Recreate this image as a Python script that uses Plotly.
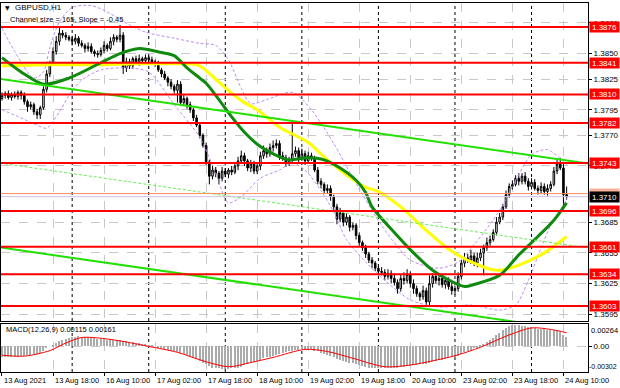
import plotly.graph_objects as go

# ---------------- data ----------------
closes = [
    1.3809, 1.3811, 1.3807, 1.3810, 1.3808, 1.3812, 1.3809, 1.3803, 1.3798, 1.3800,
    1.3793, 1.3790, 1.3797, 1.3815, 1.3830, 1.3840, 1.3852, 1.3862, 1.3870, 1.3868,
    1.3866, 1.3864, 1.3862, 1.3865, 1.3860, 1.3858, 1.3855, 1.3857, 1.3852, 1.3850,
    1.3849, 1.3853, 1.3858, 1.3855, 1.3862, 1.3866, 1.3864, 1.3868, 1.3836, 1.3842,
    1.3838, 1.3845, 1.3842, 1.3845, 1.3843, 1.3846, 1.3844, 1.3842, 1.3840, 1.3834,
    1.3830, 1.3826, 1.3822, 1.3818, 1.3814, 1.3820, 1.3802, 1.3806, 1.3800, 1.3795,
    1.3787, 1.3780, 1.3770, 1.3760, 1.3744, 1.3730, 1.3736, 1.3733, 1.3728, 1.3735,
    1.3732, 1.3736, 1.3734, 1.3740, 1.3745, 1.3750, 1.3745, 1.3738, 1.3742, 1.3735,
    1.3740, 1.3750, 1.3755, 1.3752, 1.3758, 1.3760, 1.3762, 1.3750, 1.3748, 1.3743,
    1.3746, 1.3752, 1.3755, 1.3748, 1.3752, 1.3745, 1.3750, 1.3748, 1.3736, 1.3725,
    1.3722, 1.3716, 1.3718, 1.3710, 1.3700, 1.3688, 1.3694, 1.3685, 1.3690, 1.3680,
    1.3682, 1.3672, 1.3665, 1.3660, 1.3654, 1.3648, 1.3645, 1.3640, 1.3637, 1.3636,
    1.3632, 1.3635, 1.3630, 1.3626, 1.3620, 1.3630, 1.3628, 1.3634, 1.3625, 1.3620,
    1.3615, 1.3612, 1.3618, 1.3607, 1.3625, 1.3632, 1.3628, 1.3630, 1.3624, 1.3628,
    1.3622, 1.3618, 1.3620, 1.3632, 1.3645, 1.3650, 1.3648, 1.3652, 1.3645, 1.3650,
    1.3655, 1.3660, 1.3665, 1.3668, 1.3675, 1.3685, 1.3690, 1.3700, 1.3712, 1.3720,
    1.3722, 1.3728, 1.3725, 1.3730, 1.3725, 1.3720, 1.3724, 1.3718, 1.3716, 1.3720,
    1.3715, 1.3718, 1.3722, 1.3735, 1.3742, 1.3738, 1.3712, 1.3710,
]
first_open = 1.3806
# wick lengths in pips above / below the candle body
wick_up = [
    3, 2, 3, 2, 3, 2, 2, 3, 2, 3,
    2, 3, 2, 3, 4, 3, 4, 5, 6, 3,
    3, 2, 3, 4, 2, 3, 2, 4, 3, 2,
    3, 3, 4, 2, 4, 3, 2, 10, 3, 4,
    3, 2, 3, 4, 2, 3, 2, 3, 2, 3,
    2, 3, 2, 3, 2, 4, 3, 4, 2, 3,
    2, 3, 2, 2, 3, 2, 4, 3, 2, 4,
    3, 2, 4, 3, 4, 5, 3, 2, 4, 3,
    3, 4, 5, 3, 4, 5, 4, 3, 4, 3,
    3, 31, 4, 3, 5, 3, 4, 3, 2, 3,
    3, 2, 4, 3, 2, 3, 5, 3, 4, 2,
    3, 2, 3, 2, 3, 2, 3, 2, 3, 4,
    3, 4, 3, 5, 3, 4, 6, 5, 3, 4,
    3, 2, 5, 3, 8, 3, 4, 3, 4, 3,
    3, 4, 3, 4, 3, 5, 4, 6, 3, 5,
    4, 3, 5, 4, 3, 5, 4, 3, 4, 3,
    4, 3, 5, 3, 4, 3, 4, 3, 3, 4,
    3, 4, 3, 4, 5, 6, 4, 8,
]
wick_dn = [
    2, 3, 2, 3, 2, 3, 4, 3, 5, 3,
    3, 4, 4, 2, 3, 3, 2, 3, 4, 3,
    3, 2, 4, 3, 3, 2, 4, 3, 2, 3,
    3, 2, 3, 3, 2, 4, 3, 3, 6, 4,
    3, 3, 2, 4, 3, 2, 3, 2, 3, 2,
    3, 2, 4, 3, 3, 12, 2, 3, 4, 3,
    3, 2, 3, 2, 3, 8, 3, 4, 6, 3,
    3, 4, 3, 2, 4, 3, 5, 3, 4, 3,
    3, 4, 3, 4, 3, 4, 3, 4, 3, 4,
    3, 4, 3, 5, 3, 4, 3, 3, 2, 3,
    4, 3, 3, 4, 3, 5, 3, 4, 3, 4,
    3, 4, 3, 3, 4, 3, 5, 3, 4, 3,
    4, 3, 5, 3, 5, 3, 4, 3, 4, 5,
    3, 4, 3, 4, 3, 4, 3, 5, 3, 4,
    3, 4, 4, 3, 3, 4, 3, 4, 3, 4,
    3, 22, 3, 3, 2, 3, 2, 3, 2, 3,
    3, 2, 4, 3, 3, 4, 3, 2, 4, 3,
    3, 4, 3, 2, 3, 2, 14, 3,
]

date_labels = ["13 Aug 2021", "13 Aug 18:00", "16 Aug 10:00", "17 Aug 02:00",
               "17 Aug 18:00", "18 Aug 10:00", "19 Aug 02:00", "19 Aug 18:00",
               "20 Aug 10:00", "23 Aug 02:00", "23 Aug 18:00", "24 Aug 10:00"]
date_label_bars = [0, 16, 32, 48, 64, 80, 96, 112, 128, 144, 160, 176]
day_start_bars = [22, 46, 70, 94, 118, 142, 166]

levels = [1.3876, 1.3841, 1.3810, 1.3782, 1.3743, 1.3696, 1.3661, 1.3634, 1.3603]
price_ticks = [1.3880, 1.3850, 1.3825, 1.3795, 1.3770, 1.3740,
               1.3685, 1.3655, 1.3625, 1.3595]
bid_price = 1.3710
other_price = 1.3713

ma_green_bars = [0, 6, 13, 21, 31, 37, 43, 50, 54, 58, 62, 64, 68, 72, 76, 81, 87, 90,
                 96, 101, 106, 111, 114, 116, 123, 129, 135, 141, 145, 148, 156, 162,
                 168, 173, 177]
ma_green_vals = [1.3846, 1.3832, 1.3820, 1.3826, 1.3841, 1.3850, 1.3855, 1.3851, 1.3848,
                 1.3836, 1.3826, 1.3821, 1.3805, 1.3788, 1.3773, 1.3759, 1.3749, 1.3746,
                 1.3748, 1.3746, 1.3738, 1.3726, 1.3714, 1.3700, 1.3675, 1.3655, 1.3638,
                 1.3627, 1.3622, 1.3624, 1.3633, 1.3653, 1.3671, 1.3687, 1.3704]

ma_yellow_bars = [0, 15, 31, 42, 53, 61, 63, 68, 72, 76, 80, 87, 96, 102, 109, 114, 118,
                  125, 133, 139, 144, 148, 152, 156, 162, 170, 177]
ma_yellow_vals = [1.3838, 1.3839, 1.3839, 1.3840, 1.3840, 1.3839, 1.3836, 1.3822, 1.3811,
                  1.3802, 1.3795, 1.3778, 1.3763, 1.3746, 1.3729, 1.3719, 1.3715, 1.3700,
                  1.3677, 1.3661, 1.3651, 1.3645, 1.3640, 1.3638, 1.3643, 1.3655, 1.3671]

band_up_bars = [0, 4, 10, 13, 15, 18, 22, 28, 34, 40, 45, 54, 62, 67, 71, 75, 78, 83, 91,
                97, 104, 109, 114, 119, 128, 137, 143, 148, 153, 157, 161, 166, 171, 177]
band_up_vals = [1.3875, 1.3852, 1.3826, 1.3832, 1.3856, 1.3881, 1.3895, 1.3897, 1.3889,
                1.3878, 1.3871, 1.3865, 1.3860, 1.3858, 1.3844, 1.3816, 1.3801, 1.3805,
                1.3812, 1.3795, 1.3762, 1.3734, 1.3707, 1.3682, 1.3648, 1.3640, 1.3646,
                1.3663, 1.3683, 1.3702, 1.3726, 1.3751, 1.3756, 1.3741]

band_dn_bars = [0, 6, 11, 14, 18, 21, 25, 31, 39, 46, 54, 62, 67, 71, 75, 81, 87, 91, 95,
                100, 104, 108, 114, 119, 128, 137, 147, 156, 161, 165, 169, 172, 176, 177]
band_dn_vals = [1.3795, 1.3787, 1.3780, 1.3777, 1.3793, 1.3809, 1.3824, 1.3834, 1.3836,
                1.3832, 1.3800, 1.3768, 1.3733, 1.3704, 1.3710, 1.3728, 1.3736, 1.3743,
                1.3736, 1.3716, 1.3695, 1.3668, 1.3646, 1.3631, 1.3609, 1.3602, 1.3604,
                1.3599, 1.3604, 1.3628, 1.3660, 1.3682, 1.3702, 1.3709]

channel_top_start = 1.3825   # upper channel line at bar 0
channel_size = 0.0165        # 165 points
channel_slope = -0.000045    # per bar
channel_ends = [-0.7, 183.8]

macd_main = [
    -0.0012, -0.0012, -0.0013, -0.0012, -0.0012, -0.0012, -0.0011, -0.0011, -0.0010, -0.0010,
    -0.0009, -0.0009, -0.0008, -0.0005, -0.0002, 0.0000, 0.0002, 0.0004, 0.0006, 0.0008,
    0.0009, 0.0010, 0.0011, 0.0011, 0.0012, 0.0011, 0.0011, 0.0011, 0.0010, 0.0010,
    0.0009, 0.0009, 0.0009, 0.0008, 0.0008, 0.0008, 0.0008, 0.0008, 0.0006, 0.0006,
    0.0005, 0.0005, 0.0004, 0.0004, 0.0003, 0.0003, 0.0002, 0.0001, 0.0000, -0.0001,
    -0.0002, -0.0003, -0.0004, -0.0005, -0.0006, -0.0007, -0.0008, -0.0009, -0.0010, -0.0012,
    -0.0014, -0.0015, -0.0017, -0.0019, -0.0021, -0.0023, -0.0025, -0.0026, -0.0026, -0.0027,
    -0.0027, -0.0027, -0.0026, -0.0026, -0.0025, -0.0024, -0.0022, -0.0021, -0.0020, -0.0018,
    -0.0017, -0.0016, -0.0014, -0.0013, -0.0012, -0.0011, -0.0010, -0.0009, -0.0008, -0.0007,
    -0.0006, -0.0005, -0.0004, -0.0004, -0.0003, -0.0003, -0.0003, -0.0003, -0.0005, -0.0006,
    -0.0008, -0.0009, -0.0010, -0.0011, -0.0013, -0.0015, -0.0016, -0.0017, -0.0018, -0.0019,
    -0.0020, -0.0021, -0.0022, -0.0023, -0.0024, -0.0025, -0.0025, -0.0026, -0.0026, -0.0026,
    -0.0026, -0.0025, -0.0025, -0.0025, -0.0025, -0.0024, -0.0024, -0.0023, -0.0023, -0.0022,
    -0.0022, -0.0021, -0.0021, -0.0021, -0.0019, -0.0018, -0.0017, -0.0016, -0.0016, -0.0015,
    -0.0014, -0.0013, -0.0013, -0.0011, -0.0009, -0.0007, -0.0005, -0.0004, -0.0002, -0.0001,
    0.0001, 0.0003, 0.0005, 0.0007, 0.0010, 0.0013, 0.0016, 0.0019, 0.0022, 0.0024,
    0.0025, 0.0025, 0.0025, 0.0024, 0.0024, 0.0023, 0.0023, 0.0022, 0.0021, 0.0021,
    0.0020, 0.0019, 0.0019, 0.0019, 0.0019, 0.0017, 0.0013, 0.00115,
]
signal_bars = [0, 7, 15, 20, 25, 30, 37, 46, 55, 63, 71, 78, 85, 95, 102, 110, 120, 128,
               135, 142, 150, 158, 166, 172, 177]
signal_vals = [-0.00104, -0.00115, -0.00050, 0.00040, 0.00105, 0.00100, 0.00065, 0.00000,
               -0.00070, -0.00170, -0.00240, -0.00190, -0.00130, -0.00035, -0.00060,
               -0.00140, -0.00240, -0.00220, -0.00170, -0.00110, -0.00010, 0.00120,
               0.00218, 0.00200, 0.00161]
macd_max_label = 0.00264
macd_min_label = -0.00302

# ---------------- derived OHLC ----------------
bars = list(range(len(closes)))
opens = [first_open] + closes[:-1]
highs = [max(o, c) + w * 0.0001 for o, c, w in zip(opens, closes, wick_up)]
lows = [min(o, c) - w * 0.0001 for o, c, w in zip(opens, closes, wick_dn)]

FONT = "Liberation Sans, Arial, sans-serif"
W, H = 620, 388
ML, MR, MT, MB = 1, 32, 3, 15
PH = H - MT - MB


def px(xp):
    return (xp - ML) / (W - ML - MR)


def py(yp):
    return (H - MB - yp) / PH


fig = go.Figure()

fig.add_trace(go.Candlestick(
    x=bars, open=opens, high=highs, low=lows, close=closes,
    increasing=dict(line=dict(color="black", width=1), fillcolor="white"),
    decreasing=dict(line=dict(color="black", width=1), fillcolor="black"),
    whiskerwidth=0, xaxis="x", yaxis="y", hoverinfo="skip"))

for bx, bv in ((band_up_bars, band_up_vals), (band_dn_bars, band_dn_vals)):
    fig.add_trace(go.Scatter(x=bx, y=bv, mode="lines", xaxis="x", yaxis="y",
                             line=dict(color="#C08CF0", width=1, dash="3px,2px",
                                       shape="spline", smoothing=0.8),
                             hoverinfo="skip"))

fig.add_trace(go.Scatter(x=ma_yellow_bars, y=ma_yellow_vals, mode="lines",
                         line=dict(color="#FFFF00", width=3, shape="spline", smoothing=0.8),
                         xaxis="x", yaxis="y", hoverinfo="skip"))
fig.add_trace(go.Scatter(x=ma_green_bars, y=ma_green_vals, mode="lines",
                         line=dict(color="#0E8A0E", width=3, shape="spline", smoothing=0.8),
                         xaxis="x", yaxis="y", hoverinfo="skip"))

# regression channel
ch_top = [channel_top_start + channel_slope * b for b in channel_ends]
ch_mid = [v - channel_size / 2 for v in ch_top]
ch_bot = [v - channel_size for v in ch_top]
fig.add_trace(go.Scatter(x=channel_ends, y=ch_top, mode="lines",
                         line=dict(color="#22E000", width=2), xaxis="x", yaxis="y",
                         hoverinfo="skip"))
fig.add_trace(go.Scatter(x=channel_ends, y=ch_mid, mode="lines",
                         line=dict(color="#66EE55", width=1, dash="3px,2px"), xaxis="x",
                         yaxis="y", hoverinfo="skip"))
fig.add_trace(go.Scatter(x=channel_ends, y=ch_bot, mode="lines",
                         line=dict(color="#22E000", width=2), xaxis="x", yaxis="y",
                         hoverinfo="skip"))

# MACD
fig.add_trace(go.Bar(x=bars, y=macd_main, marker=dict(color="#ABABAB", line=dict(width=0)),
                     width=0.45, xaxis="x2", yaxis="y2", hoverinfo="skip"))
fig.add_trace(go.Scatter(x=signal_bars, y=signal_vals, mode="lines",
                         line=dict(color="#FF0000", width=1, shape="spline", smoothing=0.8),
                         xaxis="x2", yaxis="y2", hoverinfo="skip"))

shapes = []
for lv in levels:
    shapes.append(dict(type="line", xref="x domain", yref="y", x0=0, x1=1, y0=lv, y1=lv,
                       line=dict(color="#FF0000", width=2), layer="above"))
shapes.append(dict(type="line", xref="x domain", yref="y", x0=0, x1=1, y0=other_price,
                   y1=other_price, line=dict(color="#FF8C60", width=1), layer="above"))
shapes.append(dict(type="line", xref="x domain", yref="y", x0=0, x1=1, y0=bid_price,
                   y1=bid_price, line=dict(color="#D0C0E0", width=1), layer="above"))
for d in day_start_bars:
    shapes.append(dict(type="line", xref="x", yref="y domain", x0=d, x1=d, y0=0, y1=1,
                       line=dict(color="black", width=1, dash="dot"), layer="below"))
    shapes.append(dict(type="line", xref="x2", yref="y2 domain", x0=d, x1=d, y0=0, y1=1,
                       line=dict(color="black", width=1, dash="dot"), layer="below"))

ann = []
for lv in levels:
    ann.append(dict(x=1, xref="paper", xanchor="left", xshift=1, y=lv, yref="y",
                    text=f"{lv:.4f}", showarrow=False, bgcolor="#FF0000",
                    font=dict(color="white", size=8, family=FONT), width=29, height=10,
                    borderpad=0, align="center"))
ann.append(dict(x=1, xref="paper", xanchor="left", xshift=1, y=other_price, yref="y",
                text=f"{other_price:.4f}", showarrow=False, bgcolor="#F6B49A",
                font=dict(color="white", size=8, family=FONT), width=29, height=10,
                borderpad=0))
ann.append(dict(x=1, xref="paper", xanchor="left", xshift=1, y=bid_price, yref="y",
                text=f"{bid_price:.4f}", showarrow=False, bgcolor="black",
                font=dict(color="white", size=8, family=FONT), width=29, height=10,
                borderpad=0))
for b, t in zip(date_label_bars, date_labels):
    ann.append(dict(x=b, xref="x2", xanchor="left", xshift=0, y=0, yref="paper",
                    yanchor="top", yshift=-1, text=t, showarrow=False,
                    font=dict(color="black", size=7.5, family=FONT)))
ann.append(dict(x=px(3), xref="paper", xanchor="left", y=py(8), yref="paper",
                yanchor="middle", text="▼", showarrow=False,
                font=dict(color="black", size=6, family="DejaVu Sans")))
ann.append(dict(x=px(13), xref="paper", xanchor="left", y=py(8), yref="paper",
                yanchor="middle", text="GBPUSD,H1", showarrow=False,
                font=dict(color="black", size=8, family=FONT)))
ann.append(dict(x=px(8), xref="paper", xanchor="left", y=py(19), yref="paper",
                yanchor="middle", text="Channel size = 165, Slope = -0.45", showarrow=False,
                font=dict(color="black", size=7.5, family=FONT)))
ann.append(dict(x=px(4), xref="paper", xanchor="left", y=py(329), yref="paper",
                yanchor="middle",
                text=f"MACD(12,26,9) {macd_main[-1]:.5f} {signal_vals[-1]:.5f}",
                showarrow=False, font=dict(color="black", size=7.5, family=FONT)))
ann.append(dict(x=1, xref="paper", xanchor="left", xshift=1, y=macd_max_label, yref="y2",
                yanchor="top", text=f"{macd_max_label:.5f}", showarrow=False,
                font=dict(color="black", size=7.5, family=FONT)))
ann.append(dict(x=1, xref="paper", xanchor="left", xshift=-1, y=macd_min_label, yref="y2",
                yanchor="bottom", text=f"{macd_min_label:.5f}", showarrow=False,
                font=dict(color="black", size=7, family=FONT)))

xr = [-0.31, 183.7]
grid = dict(showgrid=True, gridcolor="#C8C8C8", griddash="dash", gridwidth=1)
fig.update_layout(
    width=W, height=H, margin=dict(l=ML, r=MR, t=MT, b=MB, autoexpand=False),
    plot_bgcolor="white", paper_bgcolor="white", showlegend=False,
    font=dict(family=FONT, size=8, color="black"),
    xaxis=dict(range=xr, domain=[0, 1], anchor="y", tickmode="array",
               tickvals=date_label_bars, showticklabels=False, ticks="",
               showline=True, linecolor="black", linewidth=1, mirror=True,
               rangeslider=dict(visible=False), zeroline=False, automargin=False, **grid),
    yaxis=dict(range=[1.358833, 1.389948], domain=[py(321), 1], anchor="x", side="right",
               tickmode="array", tickvals=price_ticks,
               ticktext=[f"{v:.4f}" for v in price_ticks], ticks="outside", ticklen=3,
               tickcolor="black", showline=True, linecolor="black", linewidth=1,
               mirror=True, zeroline=False, tickfont=dict(size=8), automargin=False,
               **grid),
    xaxis2=dict(range=xr, domain=[0, 1], anchor="y2", matches="x", tickmode="array",
                tickvals=date_label_bars, showticklabels=False, ticks="outside", ticklen=3,
                tickcolor="black", showline=True, linecolor="black", linewidth=1,
                mirror=True, zeroline=False, automargin=False, **grid),
    yaxis2=dict(range=[macd_min_label, macd_max_label], domain=[py(372), py(324)],
                anchor="x2", side="right", tickmode="array", tickvals=[0],
                ticktext=["0.00"], ticks="outside", ticklen=3, tickcolor="black",
                showline=True, linecolor="black", linewidth=1, mirror=True,
                zeroline=False, tickfont=dict(size=8), automargin=False, **grid),
    bargap=0, shapes=shapes, annotations=ann, hovermode=False,
)

fig.write_html(
    "out.html",
    config={"displayModeBar": False, "responsive": False},
    post_script="document.body.style.margin='0';document.body.style.padding='0';",
)
